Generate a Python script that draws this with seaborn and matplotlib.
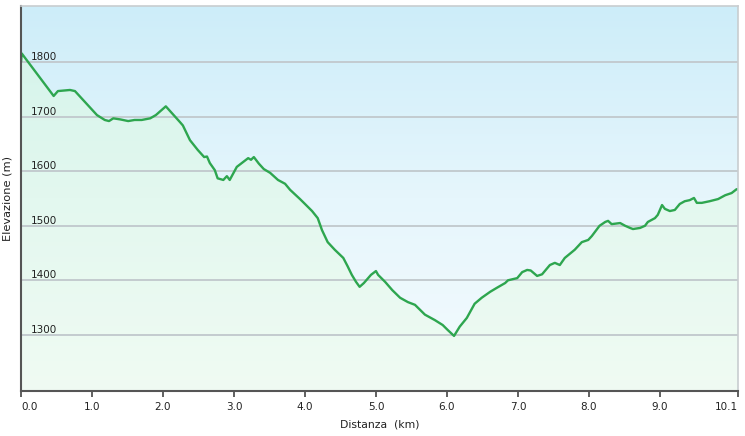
import numpy as np
import pandas as pd
import seaborn as sns
import matplotlib.pyplot as plt
from matplotlib.colors import LinearSegmentedColormap

# elevation profile
distance_km = [0.0, 0.01, 0.46, 0.52, 0.69, 0.76, 1.07, 1.18, 1.24, 1.30, 1.40, 1.51,
               1.60, 1.70, 1.82, 1.90, 2.04, 2.24, 2.28, 2.38, 2.49, 2.58, 2.62, 2.66,
               2.73, 2.77, 2.85, 2.90, 2.94, 3.04, 3.13, 3.20, 3.24, 3.28, 3.35, 3.42,
               3.51, 3.62, 3.72, 3.79, 3.93, 4.00, 4.10, 4.18, 4.24, 4.32, 4.42, 4.54,
               4.60, 4.66, 4.72, 4.77, 4.83, 4.93, 5.00, 5.03, 5.13, 5.23, 5.34, 5.45,
               5.55, 5.62, 5.69, 5.83, 5.94, 6.01, 6.10, 6.18, 6.28, 6.39, 6.49, 6.61,
               6.70, 6.82, 6.86, 6.99, 7.06, 7.13, 7.18, 7.27, 7.34, 7.45, 7.52, 7.59,
               7.66, 7.80, 7.90, 7.99, 8.04, 8.15, 8.23, 8.27, 8.32, 8.44, 8.51, 8.58,
               8.62, 8.72, 8.79, 8.83, 8.93, 8.97, 9.03, 9.07, 9.14, 9.21, 9.28, 9.35,
               9.42, 9.48, 9.52, 9.59, 9.70, 9.82, 9.92, 10.01, 10.08, 10.1]
elevation_m = [1800, 1816, 1738, 1747, 1749, 1747, 1703, 1694, 1692, 1697, 1695, 1692,
               1694, 1694, 1697, 1703, 1719, 1690, 1684, 1657, 1639, 1626, 1627, 1615,
               1602, 1587, 1584, 1591, 1584, 1608, 1617, 1624, 1621, 1626, 1614, 1604,
               1597, 1584, 1577, 1566, 1549, 1540, 1527, 1514, 1492, 1470, 1456, 1441,
               1426, 1410, 1397, 1388, 1395, 1410, 1417, 1410, 1397, 1382, 1368, 1360,
               1355, 1346, 1337, 1327, 1318, 1309, 1298, 1315, 1331, 1357, 1368, 1379,
               1386, 1395, 1400, 1404, 1415, 1419, 1418, 1408, 1411, 1428, 1432, 1428,
               1441, 1456, 1470, 1474, 1481, 1500, 1507, 1509, 1503, 1505, 1500, 1496,
               1494, 1496, 1500, 1507, 1514, 1520, 1538, 1531, 1527, 1529, 1540, 1545,
               1547, 1551, 1542, 1542, 1545, 1549, 1556, 1560, 1567, 1567]

x_ticks = [0.0, 1.0, 2.0, 3.0, 4.0, 5.0, 6.0, 7.0, 8.0, 9.0, 10.1]
y_ticks = [1300, 1400, 1500, 1600, 1700, 1800]

df = pd.DataFrame({"Distanza": distance_km, "Elevazione": elevation_m})

sns.set_theme(style="white")
plt.rcParams['font.family'] = ['DejaVu Sans']

fig = plt.figure(figsize=(7.45, 4.36), dpi=100)
ax = fig.add_axes([21 / 745, 1 - 391 / 436, 717 / 745, 385 / 436])
ax.set_axisbelow(False)

ymin, ymax = 1197, 1903
ax.set_xlim(0, 10.1)
ax.set_ylim(ymin, ymax)

# sky gradient behind everything
grad = np.linspace(0, 1, 256).reshape(-1, 1)
sky = LinearSegmentedColormap.from_list("sky", ["#cdedf9", "#e6f6fc", "#f4fbfe"])
ax.imshow(grad, cmap=sky, extent=[0, 10.1, ymin, ymax], aspect="auto",
          origin="upper", zorder=0)

# green gradient under the profile
fill = ax.fill_between(df["Distanza"], df["Elevazione"], ymin, color="none", zorder=1)
meadow = LinearSegmentedColormap.from_list("meadow", ["#d2f3ea", "#e3f8ef", "#f0fbf3"])
img = ax.imshow(grad, cmap=meadow, extent=[0, 10.1, ymin, ymax], aspect="auto",
                origin="upper", zorder=1)
img.set_clip_path(fill.get_paths()[0], transform=ax.transData)

for y in y_ticks:
    ax.axhline(y, color="#c3cbcf", lw=1.4, zorder=2)

sns.lineplot(data=df, x="Distanza", y="Elevazione", ax=ax, color="#2ea64f",
             lw=1.7, zorder=3)

ax.set_xticks(x_ticks)
ax.set_xticklabels([f"{t:.1f}" for t in x_ticks], fontsize=7.5, color="#222222")
ax.set_yticks(y_ticks)
ax.set_yticklabels([str(t) for t in y_ticks], fontsize=7.5, color="#222222")
ax.tick_params(axis="x", direction="out", length=4, width=1.2, color="#444444", pad=4,
               bottom=True)
ax.tick_params(axis="y", length=0, pad=-7)
for lbl in ax.get_yticklabels():
    lbl.set_horizontalalignment("left")
    lbl.set_verticalalignment("bottom")
xlabels = ax.get_xticklabels()
xlabels[0].set_horizontalalignment("left")
xlabels[-1].set_horizontalalignment("right")

ax.set_xlabel("Distanza  (km)", fontsize=7.8, color="#222222", labelpad=5)
ax.set_ylabel("Elevazione (m)", fontsize=8.2, color="#222222", labelpad=3)
ax.yaxis.set_label_coords(-0.012, 0.5)

ax.spines["left"].set_color("#555555")
ax.spines["left"].set_linewidth(1.5)
ax.spines["bottom"].set_color("#555555")
ax.spines["bottom"].set_linewidth(1.5)
ax.spines["top"].set_color("#c8cdd0")
ax.spines["right"].set_color("#c8cdd0")
ax.spines["top"].set_linewidth(1.2)
ax.spines["right"].set_linewidth(1.2)
for s in ax.spines.values():
    s.set_zorder(4)

fig.savefig("out.png", dpi=100, facecolor="white")
